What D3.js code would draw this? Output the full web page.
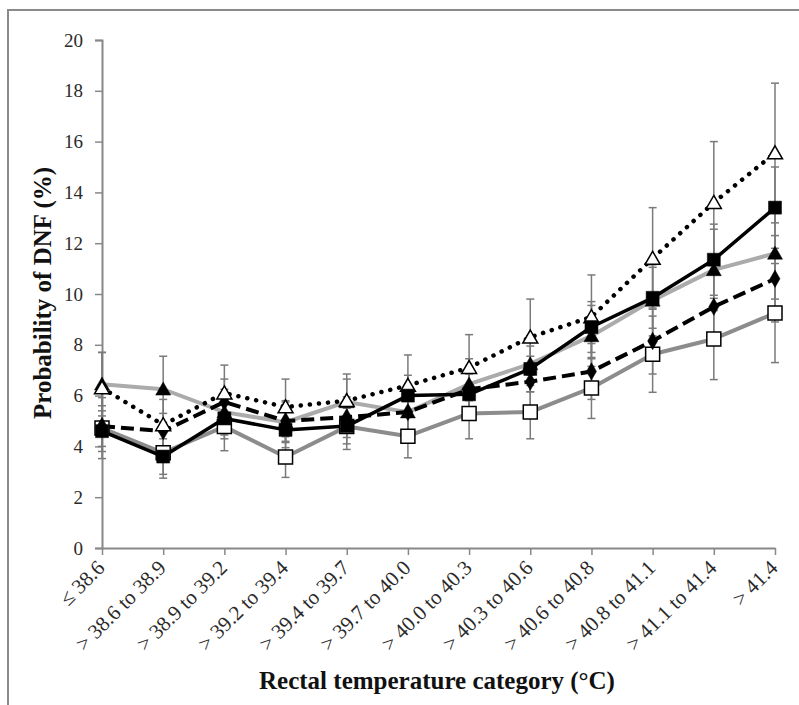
<!DOCTYPE html>
<html>
<head>
    <style>
        body {
            margin: 0;
            background-color: #ffffff;
        }

        svg {
            display: block;
        }

        .tick-label {
            font-family: "Liberation Serif", "Times New Roman", serif;
            font-size: 19px;
            fill: #2a2a2a;
        }

        .x-label {
            font-size: 21px;
        }

        .axis-title {
            font-family: "Liberation Serif", "Times New Roman", serif;
            font-size: 25px;
            font-weight: bold;
            fill: #111;
        }
    </style>
</head>
<body>
    <div id="chart"></div>

    <script src="https://d3js.org/d3.v7.min.js"></script>
    <script>
        // categories and tick labels
        var categories = ["\u2264 38.6", "> 38.6 to 38.9", "> 38.9 to 39.2", "> 39.2 to 39.4",
            "> 39.4 to 39.7", "> 39.7 to 40.0", "> 40.0 to 40.3", "> 40.3 to 40.6",
            "> 40.6 to 40.8", "> 40.8 to 41.1", "> 41.1 to 41.4", "> 41.4"];
        var yTicks = [0, 2, 4, 6, 8, 10, 12, 14, 16, 18, 20];

        // series values (probability of DNF, %) and error half-widths
        var openSquare = [4.72, 3.75, 4.78, 3.58, 4.78, 4.4, 5.3, 5.35, 6.3, 7.63, 8.23, 9.25];
        var openSquareErr = [1.2, 1.0, 0.95, 0.8, 0.9, 0.85, 1.0, 1.05, 1.2, 1.5, 1.6, 1.95];

        var blackTriangle = [6.45, 6.25, 5.35, 4.95, 5.75, 5.35, 6.45, 7.25, 8.35, 9.75, 10.95, 11.6];
        var blackTriangleErr = [1.25, 1.3, 0.9, 0.8, 0.9, 0.9, 1.0, 1.1, 1.2, 1.4, 1.6, 1.8];

        var diamond = [4.8, 4.6, 5.75, 5.0, 5.15, 5.35, 6.25, 6.55, 6.95, 8.15, 9.5, 10.6];
        var diamondErr = [0.8, 0.7, 0.9, 0.8, 0.8, 0.8, 0.9, 1.0, 1.1, 1.3, 1.5, 1.7];

        var openTriangle = [6.3, 4.85, 6.1, 5.55, 5.8, 6.4, 7.1, 8.3, 9.1, 11.4, 13.6, 15.55];
        var openTriangleErr = [1.4, 1.0, 1.1, 1.1, 1.05, 1.2, 1.3, 1.5, 1.65, 2.0, 2.4, 2.75];

        var blackSquare = [4.6, 3.6, 5.1, 4.65, 4.8, 6.0, 6.05, 7.05, 8.7, 9.85, 11.35, 13.4];
        var blackSquareErr = [0.8, 0.7, 0.8, 0.7, 0.7, 0.8, 0.8, 0.9, 1.0, 1.2, 1.4, 1.6];

        var width = 799, height = 705;

        var svg = d3.select("#chart").append("svg")
            .attr("width", width)
            .attr("height", height);

        // outer frame (only top and left edges visible)
        svg.append("rect")
            .attr("x", 8).attr("y", 10)
            .attr("width", 820).attr("height", 800)
            .attr("fill", "none")
            .attr("stroke", "#8a8a8a")
            .attr("stroke-width", 2);

        var x = d3.scalePoint().domain(categories).range([102, 775]);
        var y = d3.scaleLinear().domain([0, 20]).range([548, 40]);

        // y axis
        var yAxis = svg.append("g")
            .attr("transform", "translate(102,0)")
            .call(d3.axisLeft(y).tickValues(yTicks).tickSize(7).tickPadding(12));
        yAxis.attr("font-family", null).attr("font-size", null);
        yAxis.select(".domain").attr("stroke", "#888").attr("stroke-width", 2);
        yAxis.selectAll(".tick line").attr("stroke", "#888").attr("stroke-width", 1.5);
        yAxis.selectAll(".tick text").attr("class", "tick-label").attr("fill", null);

        // x axis
        var xAxis = svg.append("g")
            .attr("transform", "translate(0,548)")
            .call(d3.axisBottom(x).tickSize(7).tickSizeOuter(0).tickFormat(""));
        xAxis.select(".domain").attr("stroke", "#888").attr("stroke-width", 2);
        xAxis.selectAll(".tick line").attr("stroke", "#888").attr("stroke-width", 1.5);

        svg.append("g").selectAll("text")
            .data(categories)
            .enter()
            .append("text")
            .attr("class", "tick-label x-label")
            .attr("text-anchor", "end")
            .attr("transform", d => "translate(" + (x(d) + 4) + ",569) rotate(-45)")
            .text(d => d);

        // axis titles
        svg.append("text")
            .attr("class", "axis-title")
            .attr("text-anchor", "middle")
            .attr("transform", "translate(51,293) rotate(-90)")
            .text("Probability of DNF (%)");

        svg.append("text")
            .attr("class", "axis-title")
            .attr("text-anchor", "middle")
            .attr("x", 437)
            .attr("y", 689)
            .text("Rectal temperature category (\u00b0C)");

        var series = [
            { values: openSquare, err: openSquareErr, line: "#8c8c8c", dash: null, lw: 4, marker: "square", fill: "#fff", size: 14 },
            { values: blackTriangle, err: blackTriangleErr, line: "#ababab", dash: null, lw: 4, marker: "triangle", fill: "#000", size: 15 },
            { values: diamond, err: diamondErr, line: "#000", dash: "13 6", lw: 4, marker: "diamond", fill: "#000", size: 12 },
            { values: openTriangle, err: openTriangleErr, line: "#000", dash: "0.1 9", lw: 4.5, marker: "triangle", fill: "#fff", size: 15 },
            { values: blackSquare, err: blackSquareErr, line: "#000", dash: null, lw: 3.5, marker: "square", fill: "#000", size: 13 }
        ];

        // error bars
        var errG = svg.append("g");
        series.forEach(function (s) {
            var g = errG.append("g").selectAll("g")
                .data(categories)
                .enter()
                .append("g");
            g.append("line")
                .attr("x1", d => x(d)).attr("x2", d => x(d))
                .attr("y1", (d, i) => y(s.values[i] + s.err[i]))
                .attr("y2", (d, i) => y(s.values[i] - s.err[i]))
                .attr("stroke", "#7a7a7a").attr("stroke-width", 1.5);
            [1, -1].forEach(function (sign) {
                g.append("line")
                    .attr("x1", d => x(d) - 4).attr("x2", d => x(d) + 4)
                    .attr("y1", (d, i) => y(s.values[i] + sign * s.err[i]))
                    .attr("y2", (d, i) => y(s.values[i] + sign * s.err[i]))
                    .attr("stroke", "#7a7a7a").attr("stroke-width", 1.5);
            });
        });

        // lines
        var line = d3.line()
            .x((d, i) => x(categories[i]))
            .y(d => y(d));

        series.forEach(function (s) {
            svg.append("path")
                .datum(s.values)
                .attr("d", line)
                .attr("fill", "none")
                .attr("stroke", s.line)
                .attr("stroke-width", s.lw)
                .attr("stroke-linecap", s.dash === "0.1 9" ? "round" : "butt")
                .attr("stroke-linejoin", "round")
                .attr("stroke-dasharray", s.dash);
        });

        // markers
        var symbolTypes = { square: d3.symbolSquare, triangle: d3.symbolTriangle, diamond: d3.symbolDiamond };
        series.forEach(function (s) {
            var area = s.marker === "square" ? s.size * s.size :
                s.marker === "triangle" ? s.size * s.size * 0.433 : s.size * s.size * 0.6;
            svg.append("g").selectAll("path")
                .data(s.values)
                .enter()
                .append("path")
                .attr("transform", (d, i) => "translate(" + x(categories[i]) + "," + (y(d) + (s.marker === "triangle" ? 1.5 : 0)) + ")")
                .attr("d", d3.symbol().type(symbolTypes[s.marker]).size(area))
                .attr("fill", s.fill)
                .attr("stroke", "#000")
                .attr("stroke-width", s.fill === "#fff" ? 1.5 : 0.5);
        });
    </script>
</body>
</html>
